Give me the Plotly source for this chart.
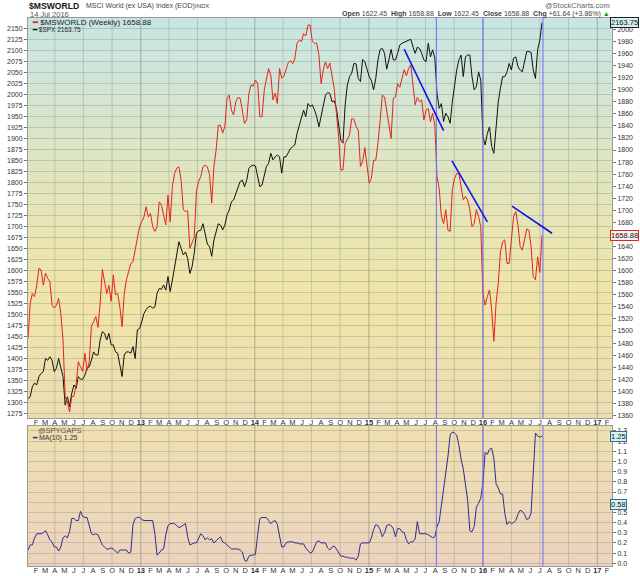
import pandas as pd
import plotly.graph_objects as go

# ---------------- data (weekly) ----------------
weeks = pd.date_range("2012-01-06", periods=236, freq="7D")

spx = [
    1310, 1314, 1337, 1345, 1341, 1360, 1367, 1371, 1401, 1397,
    1405, 1397, 1371, 1379, 1401, 1379, 1360, 1295, 1314, 1292,
    1322, 1341, 1333, 1360, 1354, 1354, 1363, 1379, 1382, 1397,
    1416, 1409, 1409, 1443, 1462, 1458, 1443, 1458, 1432, 1432,
    1416, 1413, 1386, 1360, 1409, 1416, 1416, 1413, 1428, 1401,
    1466, 1469, 1484, 1503, 1512, 1518, 1520, 1515, 1518, 1549,
    1560, 1558, 1568, 1556, 1587, 1553, 1579, 1609, 1632, 1666,
    1651, 1636, 1643, 1628, 1594, 1609, 1640, 1685, 1691, 1692,
    1707, 1685, 1661, 1655, 1633, 1670, 1688, 1707,
    1704, 1693, 1704, 1727, 1738, 1757, 1761, 1776, 1791, 1803,
    1806, 1791, 1806, 1833, 1838, 1840, 1838, 1818, 1791, 1795,
    1818, 1837, 1844, 1867, 1852, 1859, 1863, 1859, 1822, 1859,
    1859, 1868, 1878, 1882, 1886, 1912, 1931, 1950, 1965, 1950,
    1980, 1973, 1977, 1965, 1950, 1927, 1950, 1980, 1999, 2005,
    2003, 1984, 1986, 1969, 1931, 1897, 1890, 1977, 2022, 2041,
    2049, 2071, 2070, 2037, 2030, 2080, 2075, 2056, 2041, 2032,
    2011, 2037, 2079, 2103, 2105, 2094, 2058, 2079, 2103, 2079,
    2079, 2094,
    2113, 2117, 2119, 2121, 2124, 2126, 2109, 2094, 2108, 2105,
    2094, 2079, 2075, 2117, 2086, 2102, 2083, 2003, 1969, 1980,
    1939, 1958, 1950, 1935, 1984, 2022, 2056, 2079, 2090, 2041,
    2086, 2090, 2090, 2041, 2011, 2018, 2052, 2033, 1905, 1886,
    1912, 1927, 1882, 1867, 1927, 1984, 2015, 2041, 2041, 2052,
    2071, 2056, 2083, 2086, 2064, 2056, 2052, 2079, 2098, 2098,
    2096, 2056, 2037, 2102, 2124, 2163.75,
]

msworld = [
    1488, 1546, 1562, 1557, 1576, 1604, 1601, 1576, 1596, 1587,
    1582, 1543, 1538, 1543, 1554, 1529, 1485, 1391, 1383, 1366,
    1391, 1392, 1411, 1449, 1441, 1433, 1463, 1435, 1449, 1508,
    1515, 1524, 1506, 1546, 1602, 1585, 1562, 1576, 1549, 1593,
    1560, 1562, 1540, 1507, 1562, 1585, 1601, 1612, 1615, 1634,
    1656, 1673, 1681, 1689, 1706, 1689, 1695, 1673, 1665, 1673,
    1714, 1709, 1692, 1676, 1725, 1681, 1739, 1761, 1770, 1772,
    1750, 1701, 1698, 1699, 1637, 1645, 1655, 1731, 1748, 1756,
    1772, 1775, 1772, 1759, 1712, 1772, 1800, 1841,
    1841, 1828, 1839, 1886, 1891, 1866, 1858, 1880, 1887, 1886,
    1861, 1844, 1850, 1894, 1908, 1906, 1916, 1910, 1855, 1855,
    1899, 1916, 1935, 1924, 1883, 1894, 1877, 1935, 1919, 1922,
    1935, 1945, 1948, 1943, 1952, 1977, 1982, 1980, 1993, 1989,
    2007, 2007, 1980, 1977, 1977, 1957, 1910, 1933, 1946, 1935,
    1944, 1922, 1902, 1861, 1822, 1767, 1767, 1811, 1819, 1825,
    1852, 1851, 1839, 1833, 1773, 1781, 1804, 1778, 1745, 1753,
    1783, 1783, 1811, 1850, 1891, 1888, 1866, 1844, 1819, 1886,
    1888, 1910,
    1904, 1919, 1933, 1923, 1935, 1941, 1910, 1875, 1887, 1880,
    1883, 1850, 1866, 1869, 1847, 1861, 1841, 1756, 1736, 1690,
    1678, 1701, 1667, 1665, 1734, 1753, 1761, 1761, 1739, 1717,
    1723, 1717, 1701, 1673, 1678, 1701, 1690, 1673, 1562, 1543,
    1557, 1568, 1535, 1483, 1546, 1579, 1631, 1648, 1651, 1612,
    1612, 1651, 1690, 1698, 1676, 1640, 1634, 1651, 1669, 1667,
    1640, 1590, 1585, 1623, 1597, 1658.88,
]

spygaps_ma10 = [
    0.13, 0.18, 0.18, 0.25, 0.29, 0.29, 0.29, 0.30, 0.32, 0.28,
    0.23, 0.21, 0.16, 0.16, 0.12, 0.16, 0.25, 0.27, 0.25, 0.31,
    0.44, 0.44, 0.42, 0.42, 0.51, 0.46, 0.45, 0.45, 0.36, 0.29,
    0.28, 0.29, 0.28, 0.23, 0.18, 0.16, 0.14, 0.14, 0.15, 0.14,
    0.12, 0.10, 0.13, 0.13, 0.13, 0.13, 0.10, 0.11, 0.38, 0.44,
    0.45, 0.45, 0.43, 0.42, 0.42, 0.42, 0.42, 0.42, 0.29, 0.08,
    0.10, 0.13, 0.14, 0.28, 0.37, 0.39, 0.39, 0.39, 0.37, 0.35,
    0.36, 0.38, 0.39, 0.26, 0.18, 0.19, 0.20, 0.20, 0.25, 0.29,
    0.27, 0.23, 0.25, 0.23, 0.24, 0.20, 0.22, 0.24, 0.26, 0.21,
    0.20, 0.18, 0.16, 0.14, 0.14, 0.14, 0.14, 0.13, 0.11, 0.03,
    0.02, 0.07, 0.08, 0.08, 0.09, 0.28, 0.44, 0.45, 0.45, 0.45,
    0.42, 0.39, 0.41, 0.42, 0.38, 0.28, 0.16, 0.16, 0.20, 0.21,
    0.21, 0.21, 0.20, 0.20, 0.19, 0.19, 0.19, 0.15, 0.12, 0.10,
    0.11, 0.16, 0.21, 0.22, 0.20, 0.20, 0.20, 0.15, 0.13, 0.16,
    0.17, 0.14, 0.10, 0.07, 0.07, 0.06, 0.06, 0.05, 0.05, 0.05,
    0.03, 0.07, 0.19, 0.20, 0.20, 0.20, 0.20, 0.25, 0.33, 0.38,
    0.37, 0.33, 0.26, 0.30, 0.37, 0.38, 0.37, 0.34, 0.26, 0.34,
    0.34, 0.31, 0.30, 0.23, 0.19, 0.21, 0.21, 0.24, 0.41, 0.29,
    0.29, 0.29, 0.29, 0.28, 0.26, 0.25, 0.26, 0.36, 0.41, 0.57,
    0.70, 0.87, 1.05, 1.26, 1.29, 1.28, 1.26, 1.16, 1.02, 0.93,
    0.79, 0.62, 0.32, 0.31, 0.36, 0.55, 0.59, 0.64, 0.79, 1.09,
    1.07, 1.12, 1.13, 1.03, 0.78, 0.74, 0.68, 0.68, 0.49, 0.38,
    0.41, 0.39, 0.40, 0.42, 0.48, 0.52, 0.51, 0.48, 0.43, 0.44,
    0.49, 0.95, 1.28, 1.25, 1.24, 1.25,
]

# hand drawn lines on the chart
marker_dates = ["2015-08-05", "2016-01-01", "2016-07-11"]
trend_start_dates = ["2015-04-24", "2015-09-24", "2016-04-03"]
trend_start_values = [1967, 1782, 1707]
trend_end_dates = ["2015-08-28", "2016-01-15", "2016-08-09"]
trend_end_values = [1832, 1681, 1662]

month_starts = pd.date_range("2012-02-01", "2017-02-01", freq="MS")
month_letters = ["J", "F", "M", "A", "M", "J", "J", "A", "S", "O", "N", "D"]
tick_text = [f"<b>{d:%y}</b>" if d.month == 1 else month_letters[d.month - 1]
             for d in month_starts]
quarter_starts = pd.date_range("2012-04-01", "2017-01-01", freq="QS")

X_RANGE = ["2012-01-06", "2017-02-17"]
MAIN_DOM = [0.2701, 1.0]
LOW_DOM = [0.0, 0.2555]
GRID = "rgba(120,135,115,0.33)"
FONT = "Liberation Sans, Arial, sans-serif"

fig = go.Figure()

fig.add_trace(go.Scatter(x=weeks, y=spx, name="$SPX", mode="lines",
                         line=dict(color="#111111", width=1), xaxis="x", yaxis="y"))
fig.add_trace(go.Scatter(x=weeks, y=msworld, name="$MSWORLD", mode="lines",
                         line=dict(color="#e3231b", width=1), xaxis="x", yaxis="y2"))
fig.add_trace(go.Scatter(x=weeks, y=spygaps_ma10, name="MA(10)", mode="lines",
                         line=dict(color="#2d2d8f", width=1), xaxis="x2", yaxis="y3"))


# --------- background gradients (strips) ---------
def mix(stops, f):
    for (p0, c0), (p1, c1) in zip(stops, stops[1:]):
        if p0 <= f <= p1:
            t = (f - p0) / (p1 - p0)
            return "rgb(%d,%d,%d)" % tuple(round(a + (b - a) * t) for a, b in zip(c0, c1))
    return "rgb(%d,%d,%d)" % stops[-1][1]


main_stops = [(0.0, (236, 221, 178)), (0.3, (240, 229, 168)), (0.55, (228, 229, 186)),
              (0.8, (212, 229, 210)), (1.0, (199, 229, 228))]
low_stops = [(0.0, (236, 211, 190)), (1.0, (239, 224, 176))]

n = 60
for ref, stops in (("y domain", main_stops), ("y3 domain", low_stops)):
    for i in range(n):
        fig.add_shape(type="rect", xref="paper", yref=ref, x0=0, x1=1,
                      y0=i / n, y1=min(1, (i + 1.6) / n), layer="below",
                      line=dict(width=0), fillcolor=mix(stops, (i + 0.5) / n))

# quarter grid lines
for q in quarter_starts:
    c = "rgba(110,125,100,0.5)" if q.month == 1 else GRID
    for xr, yr in (("x", "y domain"), ("x2", "y3 domain")):
        fig.add_shape(type="line", xref=xr, yref=yr, x0=q, x1=q, y0=0, y1=1,
                      layer="below", line=dict(color=c, width=1))

# blue vertical markers through both panels
for d in marker_dates:
    for xr, yr in (("x", "y domain"), ("x2", "y3 domain")):
        fig.add_shape(type="line", xref=xr, yref=yr, x0=d, x1=d, y0=0, y1=1,
                      line=dict(color="#6a6aff", width=1))

# trend lines
for d0, v0, d1, v1 in zip(trend_start_dates, trend_start_values,
                          trend_end_dates, trend_end_values):
    fig.add_shape(type="line", xref="x", yref="y2", x0=d0, y0=v0, x1=d1, y1=v1,
                  line=dict(color="#1010ee", width=1.6))

axis_common = dict(showline=True, linecolor="#9a9a9a", mirror=True, zeroline=False,
                   automargin=False)

fig.update_layout(
    width=640, height=576,
    margin=dict(l=28, r=28, t=18, b=10),
    paper_bgcolor="white", plot_bgcolor="white",
    showlegend=False,
    font=dict(family=FONT, size=8, color="#333333"),
    xaxis=dict(type="date", range=X_RANGE, domain=[0, 1], anchor="y",
               tickmode="array", tickvals=month_starts, ticktext=tick_text,
               ticks="", showgrid=False, tickangle=0, ticklabelstandoff=-3,
               tickfont=dict(size=7.5, color="#333333"), **axis_common),
    yaxis=dict(domain=MAIN_DOM, range=[1265.9, 2174.2], tick0=1275, dtick=25,
               side="left", anchor="x", ticks="outside", ticklen=3, tickcolor="#777",
               showgrid=True, gridcolor=GRID, gridwidth=1,
               tickfont=dict(size=7, color="#333333"), **axis_common),
    yaxis2=dict(overlaying="y", side="right", anchor="x", range=[1355.8, 2018.8],
                tick0=0, dtick=20, ticks="outside", ticklen=3, tickcolor="#777",
                showgrid=False, zeroline=False, automargin=False,
                tickfont=dict(size=7, color="#333333")),
    xaxis2=dict(type="date", range=X_RANGE, matches="x", domain=[0, 1], anchor="y3",
                tickmode="array", tickvals=month_starts, ticktext=tick_text,
                ticks="", showgrid=False, tickangle=0, ticklabelstandoff=-3,
                tickfont=dict(size=7.5, color="#333333"), **axis_common),
    yaxis3=dict(domain=LOW_DOM, range=[-0.027, 1.349], tick0=0, dtick=0.1,
                tickformat=".1f", side="right", anchor="x2",
                ticks="outside", ticklen=3, tickcolor="#777",
                showgrid=True, gridcolor=GRID, gridwidth=1,
                tickfont=dict(size=7, color="#333333"), **axis_common),
)


def px_x(px):
    return (px - 28) / 584


def px_y(px):
    return (566 - px) / 548


notes = [
    (27, 6.5, "left", "<b>$MSWORLD</b>", 8.6, "#111111"),
    (84, 6.5, "left", "MSCI World (ex USA) Index (EOD)", 7, "#444444"),
    (193, 6.5, "left", "INDX", 6, "#444444"),
    (28, 14.5, "left", "14 Jul 2016", 7.5, "#555555"),
    (612, 5, "right", "@StockCharts.com", 7.5, "#666666"),
    (612, 14.5, "right",
     "<b>Open</b> 1622.45  <b>High</b> 1658.88  <b>Low</b> 1622.45  "
     "<b>Close</b> 1658.88  <b>Chg</b> +61.64 (+3.86%) "
     "<span style='color:#119911'>▲</span>", 7, "#444444"),
    (30, 22.5, "left",
     "<span style='color:#e3231b'><b>━</b></span> $MSWORLD (Weekly) 1658.88", 8, "#222222"),
    (30, 29.5, "left",
     "<span style='color:#111111'><b>━</b></span> $SPX 2163.75", 6.5, "#222222"),
    (36, 431, "left", "@SPYGAPS", 7.5, "#555555"),
    (30, 438, "left",
     "<span style='color:#2d2d8f'><b>━</b></span> MA(10) 1.25", 7, "#333333"),
]
for x, y, anchor, text, size, color in notes:
    fig.add_annotation(x=px_x(x), y=px_y(y), xref="paper", yref="paper",
                       xanchor=anchor, yanchor="middle", text=text, showarrow=False,
                       font=dict(family=FONT, size=size, color=color))

# last value tags on the right scales
tags = [
    ("y", 2163.75, "2163.75", "#222222", "#d4f0f0"),
    ("y2", 1658.88, "1658.88", "#e3231b", "#fbeeee"),
    ("y3", 1.25, "1.25", "#2d6f8f", "#d4f0f0"),
    ("y3", 0.58, "0.58", "#2d6f8f", "#d4f0f0"),
]
for yr, val, text, border, bg in tags:
    fig.add_annotation(x=1, y=val, xref="paper", yref=yr, xanchor="left",
                       yanchor="middle", xshift=-2, text=text, showarrow=False,
                       bordercolor=border, borderwidth=1, borderpad=0, bgcolor=bg,
                       font=dict(family=FONT, size=7.5, color="#111111"))

fig.write_html("out.html", config={"displayModeBar": False},
               post_script="document.body.style.margin='0';"
                           "document.body.style.overflow='hidden';")
